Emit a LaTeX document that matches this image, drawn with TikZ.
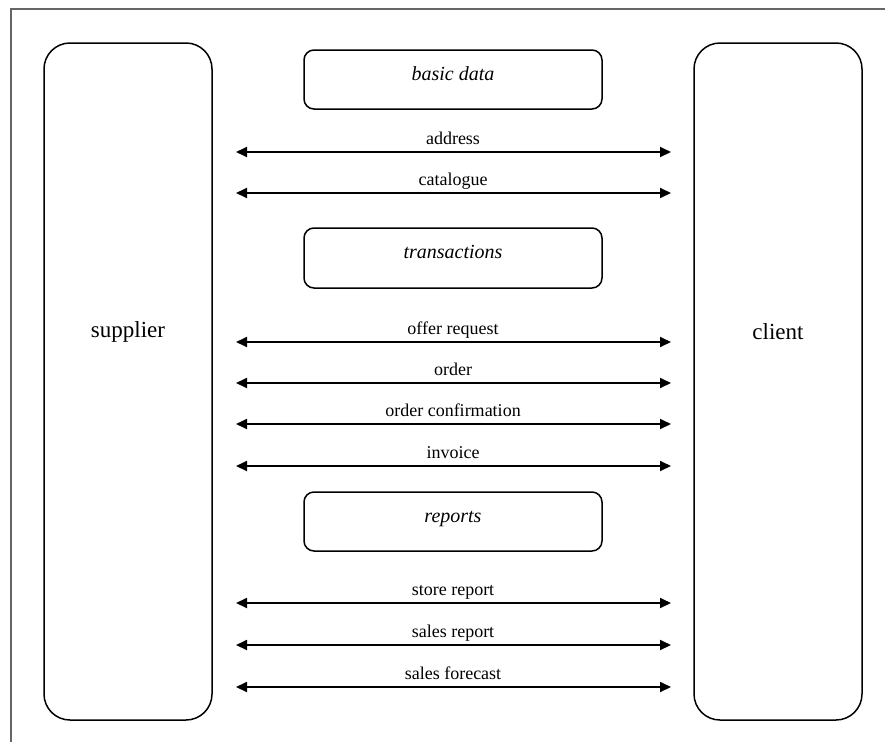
\documentclass[tikz,border=0pt]{standalone}
\usepackage{fontspec}
\setmainfont{Liberation Serif}
\usetikzlibrary{arrows.meta}
\begin{document}
\begin{tikzpicture}[x=1pt,y=-1pt,
  party/.style={draw=black,line width=1.5pt,rounded corners=26pt},
  catbox/.style={draw=black,line width=1.5pt,rounded corners=10pt},
  flow/.style={line width=1.8pt,{Triangle[length=11pt,width=10pt]}-{Triangle[length=11pt,width=10pt]}},
  lbl/.style={anchor=base,inner sep=0pt,font=\fontsize{18}{20}\selectfont},
  cat/.style={anchor=base,inner sep=0pt,font=\fontsize{20}{22}\selectfont\itshape},
  big/.style={inner sep=0pt,font=\fontsize{23}{26}\selectfont}]
\useasboundingbox (0,0) rectangle (885,742);
\draw[gray!80!black,line width=1.5pt] (11,742) -- (11,9) -- (885,9);
% parties
\draw[party] (44,43) rectangle (212,720);
\draw[party] (694,43) rectangle (862,720);
\node[big] (sup) at (128,332) {supplier};
\node[big] (cli) at (778,332) {client};
% category boxes
\draw[catbox] (304,50) rectangle (602,109);
\node[cat] (bd) at (453,80) {basic data};
\draw[catbox] (304,228) rectangle (602,288);
\node[cat] (tr) at (453,258) {transactions};
\draw[catbox] (304,492) rectangle (602,551);
\node[cat] (rp) at (453,522) {reports};
% flows
\foreach \n/\y/\t in {a/152/address, b/193/catalogue, c/342/offer request, d/383/order, e/424/order confirmation, f/466/invoice, g/603/store report, h/645/sales report, i/687/sales forecast}{
  \coordinate (\n L) at (236,\y);
  \coordinate (\n R) at (671,\y);
  \node[lbl] (\n T) at (453,\y-8) {\t};
  \draw[flow] (\n L) -- (\n R);
}
\end{tikzpicture}
\end{document}
